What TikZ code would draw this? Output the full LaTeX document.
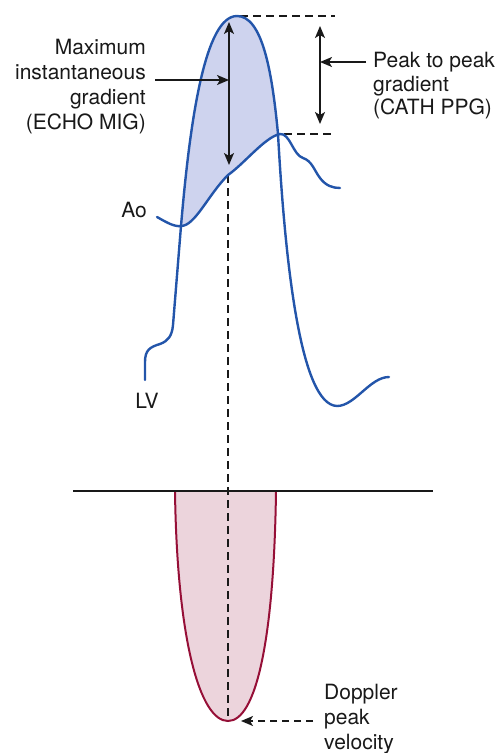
\documentclass[tikz,border=0pt]{standalone}
\usepackage{fontspec}
\setmainfont{TeX Gyre Heros}
\usetikzlibrary{arrows.meta}
\definecolor{lvblue}{RGB}{35,85,170}
\definecolor{lvfill}{RGB}{206,211,238}
\definecolor{dopline}{RGB}{150,15,55}
\definecolor{dopfill}{RGB}{236,212,220}
\definecolor{ink}{RGB}{25,25,25}
\begin{document}
\begin{tikzpicture}[x=1pt,y=-1pt,
  curve/.style={draw=lvblue,line width=2.4pt,line cap=round,line join=round},
  dashline/.style={draw=ink,line width=2.5pt,dash pattern=on 8pt off 5pt},
  arr/.style={draw=ink,line width=1.5pt,-{Stealth[length=12pt,width=10pt,inset=3pt]}},
  darr/.style={draw=ink,line width=1.5pt,{Stealth[length=12pt,width=10pt,inset=3pt]}-{Stealth[length=12pt,width=10pt,inset=3pt]}},
  lbl/.style={inner sep=0pt,font=\fontsize{21}{25}\selectfont,text=ink}]
\useasboundingbox (0,0) rectangle (495,753);
% fills
\fill[lvfill] (181,226) .. controls (190,120) and (205,16) .. (237,16)
  .. controls (262,16) and (272,70) .. (278,134) -- (280,134)
  .. controls (265,140) and (245,163) .. (228,175)
  .. controls (208,195) and (195,226) .. (181,226) -- cycle;
\fill[dopfill] (175,491) .. controls (177,640) and (200,721) .. (228,721)
  .. controls (256,721) and (274,640) .. (276,491) -- cycle;
% coordinates
\coordinate (aoTop) at (228,175);
\coordinate (dopBot) at (228,721);
\coordinate (pk) at (240,16);
\coordinate (pkR) at (335,16);
\coordinate (aoPk) at (284,134);
\coordinate (aoPkR) at (335,134);
% Doppler
\draw[dopline,line width=2pt] (175,491) .. controls (177,640) and (200,721) .. (228,721)
  .. controls (256,721) and (274,640) .. (276,491);
\coordinate (bl) at (73,491);
\coordinate (br) at (433,491);
\draw[ink,line width=2pt] (bl) -- (br);
% dashed guides
\draw[dashline] (aoTop) -- (dopBot);
\draw[dashline] (pk) -- (pkR);
\draw[dashline] (aoPk) -- (aoPkR);
% LV curve
\draw[curve] (145,380) -- (145,362) .. controls (145,350) and (150,347) .. (160,344)
  .. controls (168,341) and (172,336) .. (173,325) -- (181,226)
  .. controls (190,120) and (205,16) .. (237,16)
  .. controls (262,16) and (272,70) .. (278,134)
  .. controls (285,260) and (300,405) .. (337,406)
  .. controls (355,406) and (370,377) .. (389,377);
% Ao curve
\draw[curve] (157,217) .. controls (166,222) and (174,227) .. (181,226)
  .. controls (195,226) and (208,195) .. (228,175)
  .. controls (245,163) and (265,137) .. (280,134)
  .. controls (290,133) and (293,155) .. (303,158)
  .. controls (312,161) and (314,170) .. (320,178)
  .. controls (326,186) and (333,188) .. (340,188);
% labels
\node[lbl,align=right,anchor=east] (mig) at (146,87) {Maximum\\instantaneous\\gradient\\(ECHO MIG)};
\node[lbl,align=left,anchor=west,font=\fontsize{21}{23.5}\selectfont] (ppg) at (373,86) {Peak to peak\\gradient\\(CATH PPG)};
\node[lbl,align=left,anchor=west] (dop) at (324,719) {Doppler\\peak\\velocity};
\node[lbl] (ao) at (134,210) {Ao};
\node[lbl] (lv) at (147,401) {LV};
% arrows
\coordinate (m1) at (229,22);
\coordinate (m2) at (229,165);
\draw[darr] (m1) -- (m2);
\coordinate (p1) at (320,26);
\coordinate (p2) at (320,124);
\draw[darr] (p1) -- (p2);
\coordinate (migA) at (155,80);
\coordinate (migB) at (229,80);
\draw[arr] (migA) -- (migB);
\coordinate (ppgA) at (366,62);
\coordinate (ppgB) at (320,62);
\draw[arr] (ppgA) -- (ppgB);
\coordinate (dopA) at (313,721);
\coordinate (dopB) at (241,721);
\draw[arr,dash pattern=on 7pt off 5pt] (dopA) -- (dopB);
\end{tikzpicture}
\end{document}
